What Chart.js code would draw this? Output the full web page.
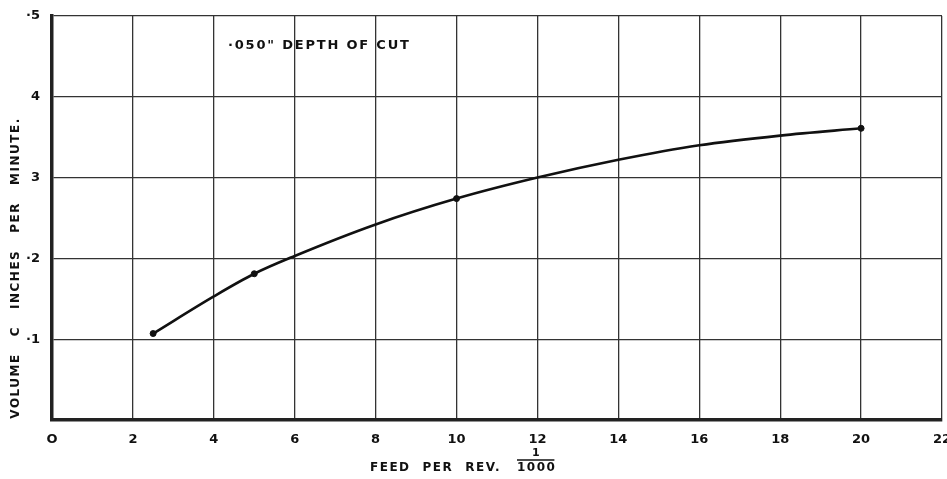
<!DOCTYPE html>
<html>
<head>
<meta charset="utf-8">
<script src="https://cdn.jsdelivr.net/npm/chart.js@4"></script>
<style>
  html, body { margin: 0; padding: 0; background: #fff; }
  #wrap { width: 947px; height: 479px; }
</style>
</head>
<body>
<div id="wrap"><canvas id="feedChart"></canvas></div>
<script>
// measured points (dots on the curve)
const feedPoints = [2.5, 5, 10, 20];
const volumePoints = [0.107, 0.181, 0.274, 0.361];

// curve
const curveFeed = [2.5, 4, 5, 6, 8, 10, 12, 14, 16, 18, 20];
const curveVolume = [0.107, 0.153, 0.181, 0.203, 0.242, 0.274, 0.300, 0.322, 0.340, 0.352, 0.361];

const xTickLabels = ['O', '2', '4', '6', '8', '10', '12', '14', '16', '18', '20', '22'];
const yTickLabels = ['', '·1', '·2', '3', '4', '·5'];

const chartTitle = '·050" DEPTH OF CUT';
const xTitleWords = ['FEED', 'PER', 'REV.'];
const xTitleFrac = '1000';
const yTitle = 'VOLUME   C   INCHES   PER   MINUTE.';

const ink = '#111';

const textPlugin = {
  id: 'sheetText',
  afterDraw(chart) {
    const ctx = chart.ctx;
    ctx.save();
    ctx.fillStyle = ink;
    ctx.strokeStyle = ink;
    ctx.font = 'bold 13px "DejaVu Sans", sans-serif';
    ctx.letterSpacing = '1.8px';
    ctx.textBaseline = 'middle';
    ctx.textAlign = 'left';
    ctx.fillText(chartTitle, 228, 46);

    // x axis title
    ctx.font = 'bold 12px "DejaVu Sans", sans-serif';
    ctx.letterSpacing = '1.5px';
    let x = 370;
    xTitleWords.forEach(w => {
      ctx.fillText(w, x, 468);
      x += ctx.measureText(w).width + 12;
    });
    const fx = 517;
    const fw = ctx.measureText(xTitleFrac).width;
    ctx.fillText(xTitleFrac, fx, 468);
    ctx.lineWidth = 1.5;
    ctx.beginPath();
    ctx.moveTo(fx, 460);
    ctx.lineTo(fx + fw - 2, 460);
    ctx.stroke();
    ctx.textAlign = 'center';
    ctx.font = 'bold 11px "DejaVu Sans", sans-serif';
    ctx.fillText('1', fx + fw / 2, 453);

    // y axis title
    ctx.font = 'bold 12px "DejaVu Sans", sans-serif';
    ctx.translate(16, 268);
    ctx.rotate(-Math.PI / 2);
    ctx.textAlign = 'center';
    ctx.fillText(yTitle, 0, 0);
    ctx.restore();
  }
};

new Chart(document.getElementById('feedChart'), {
  type: 'line',
  data: {
    datasets: [{
      label: 'curve',
      data: curveFeed.map((x, i) => ({ x: x, y: curveVolume[i] })),
      borderColor: ink,
      borderWidth: 2.6,
      pointRadius: 0,
      cubicInterpolationMode: 'monotone',
      fill: false
    }, {
      label: 'points',
      data: feedPoints.map((x, i) => ({ x: x, y: volumePoints[i] })),
      showLine: false,
      pointRadius: 3,
      pointBackgroundColor: ink,
      pointBorderColor: ink
    }]
  },
  options: {
    responsive: true,
    maintainAspectRatio: false,
    animation: false,
    layout: { padding: { left: 0, right: 5, top: 16, bottom: 0 } },
    plugins: {
      legend: { display: false },
      tooltip: { enabled: false }
    },
    scales: {
      x: {
        type: 'linear',
        min: 0,
        max: 22,
        afterFit: s => { s.height = 59; s.paddingRight = 0; s.paddingLeft = 0; },
        ticks: {
          stepSize: 2,
          color: ink,
          font: { family: '"DejaVu Sans", sans-serif', size: 13, weight: 'bold' },
          padding: 12,
          maxRotation: 0,
          callback: v => xTickLabels[v / 2]
        },
        grid: { color: '#333', lineWidth: 1.3, drawTicks: false },
        border: { color: '#222', width: 3.5 }
      },
      y: {
        min: 0,
        max: 0.5,
        afterFit: s => { s.width = 52; s.paddingTop = 0; s.paddingBottom = 0; },
        ticks: {
          stepSize: 0.1,
          color: ink,
          font: { family: '"DejaVu Sans", sans-serif', size: 13, weight: 'bold' },
          padding: 12,
          callback: v => yTickLabels[Math.round(v * 10)]
        },
        grid: { color: '#333', lineWidth: 1.3, drawTicks: false },
        border: { color: '#222', width: 3.5 }
      }
    }
  },
  plugins: [textPlugin]
});
</script>
</body>
</html>
